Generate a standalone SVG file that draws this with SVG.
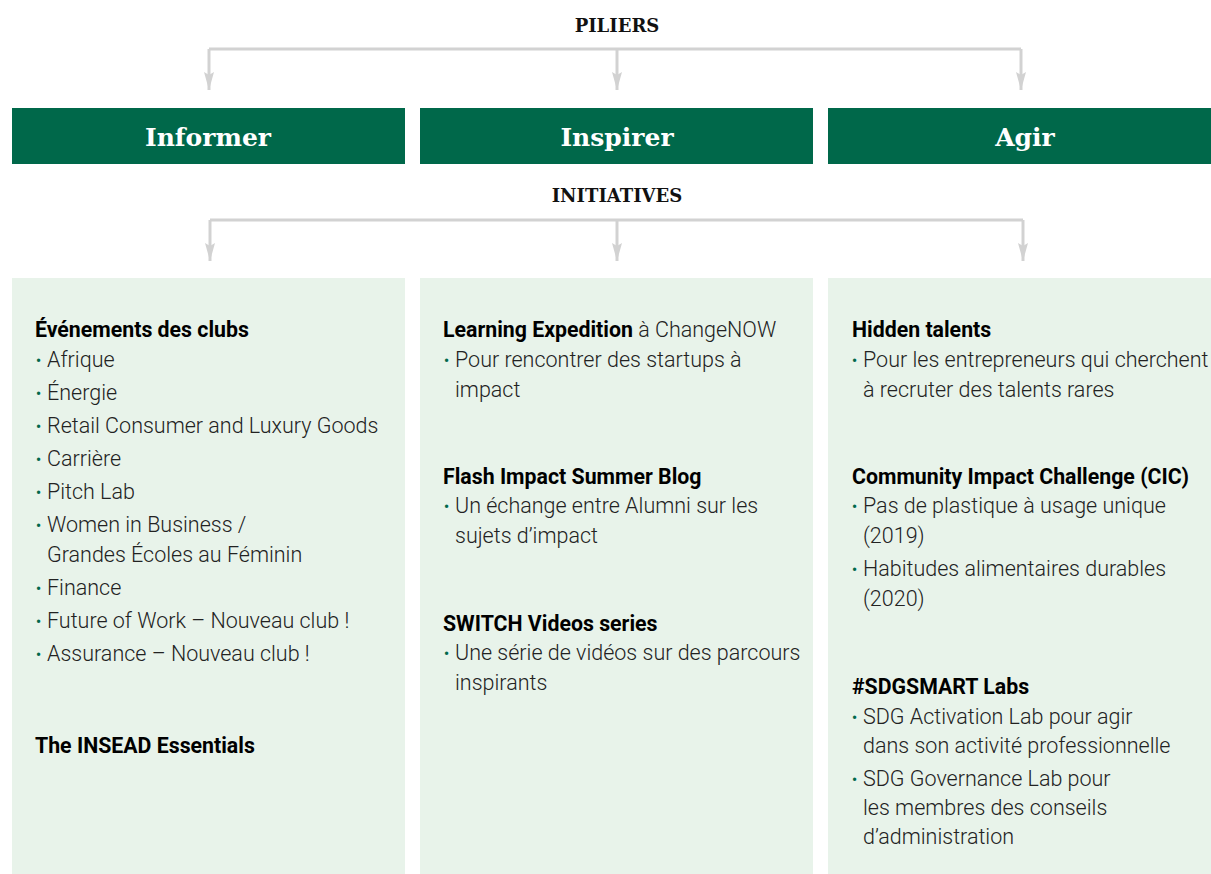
<svg xmlns="http://www.w3.org/2000/svg" width="1211" height="874" viewBox="0 0 1211 874">
<defs>
<marker id="arr" viewBox="0 0 18 10" refX="18" refY="5" markerWidth="18" markerHeight="10" markerUnits="userSpaceOnUse" orient="auto">
<path d="M0,0 L3,5 L0,10 L18,5 Z" fill="#d2d2d2"/>
</marker>
<style>
.bg{fill:#ffffff}
.bar{fill:#00684a}
.panel{fill:#e8f3ea}
.conn{fill:none;stroke:#d2d2d2;stroke-width:3}
.lbl{font-family:"DejaVu Serif",serif;font-weight:bold;font-size:18px;fill:#111;text-anchor:middle}
.pil{font-family:"DejaVu Serif",serif;font-weight:bold;font-size:25px;fill:#ffffff;text-anchor:middle}
.h{font-family:Roboto,"Liberation Sans",sans-serif;font-weight:700;font-size:21.3px;fill:#000}
.t{font-family:Roboto,"Liberation Sans",sans-serif;font-weight:300;font-size:21.5px;fill:#222}
.b{fill:#00684a;font-family:Roboto,"Liberation Sans",sans-serif;font-size:14px;font-weight:700}
</style>
</defs>
<rect class="bg" x="0" y="0" width="1211" height="874"/>
<text class="lbl" x="617" y="32">PILIERS</text>
<text class="lbl" x="617" y="202">INITIATIVES</text>
<g id="connectors">
<path class="conn" d="M209,49 H1021"/>
<path class="conn" d="M209,49 V90" marker-end="url(#arr)"/>
<path class="conn" d="M617,49 V90" marker-end="url(#arr)"/>
<path class="conn" d="M1021,49 V90" marker-end="url(#arr)"/>
<path class="conn" d="M210,220 H1023"/>
<path class="conn" d="M210,220 V261" marker-end="url(#arr)"/>
<path class="conn" d="M617,220 V261" marker-end="url(#arr)"/>
<path class="conn" d="M1023,220 V261" marker-end="url(#arr)"/>
</g>
<g id="pilier-informer">
<rect class="bar" x="12" y="108" width="393" height="56"/>
<text class="pil" x="208" y="146">Informer</text>
</g>
<g id="pilier-inspirer">
<rect class="bar" x="420" y="108" width="393" height="56"/>
<text class="pil" x="617" y="146">Inspirer</text>
</g>
<g id="pilier-agir">
<rect class="bar" x="828" y="108" width="383" height="56"/>
<text class="pil" x="1025" y="146">Agir</text>
</g>
<g id="initiatives-informer">
<rect class="panel" x="12" y="278" width="393" height="596"/>
<text class="h" x="35" y="337">Événements des clubs</text>
<g class="b"><text x="36" y="366">•</text><text x="36" y="399">•</text><text x="36" y="432">•</text><text x="36" y="465">•</text><text x="36" y="498">•</text><text x="36" y="531">•</text><text x="36" y="594">•</text><text x="36" y="627">•</text><text x="36" y="660">•</text></g>
<text class="t" x="47" y="367">Afrique</text>
<text class="t" x="47" y="400">Énergie</text>
<text class="t" x="47" y="433">Retail Consumer and Luxury Goods</text>
<text class="t" x="47" y="466">Carrière</text>
<text class="t" x="47" y="499">Pitch Lab</text>
<text class="t" x="47" y="532">Women in Business /</text>
<text class="t" x="47" y="562">Grandes Écoles au Féminin</text>
<text class="t" x="47" y="595">Finance</text>
<text class="t" x="47" y="628">Future of Work – Nouveau club !</text>
<text class="t" x="47" y="661">Assurance – Nouveau club !</text>
<text class="h" x="35" y="753">The INSEAD Essentials</text>
</g>
<g id="initiatives-inspirer">
<rect class="panel" x="420" y="278" width="393" height="596"/>
<text x="443" y="337"><tspan class="h">Learning Expedition</tspan><tspan class="t"> à ChangeNOW</tspan></text>
<g class="b"><text x="444" y="366">•</text><text x="444" y="512">•</text><text x="444" y="659">•</text></g>
<text class="t" x="455" y="367">Pour rencontrer des startups à</text>
<text class="t" x="455" y="397">impact</text>
<text class="h" x="443" y="484">Flash Impact Summer Blog</text>
<text class="t" x="455" y="513">Un échange entre Alumni sur les</text>
<text class="t" x="455" y="543">sujets d’impact</text>
<text class="h" x="443" y="631">SWITCH Videos series</text>
<text class="t" x="455" y="660">Une série de vidéos sur des parcours</text>
<text class="t" x="455" y="690">inspirants</text>
</g>
<g id="initiatives-agir">
<rect class="panel" x="828" y="278" width="383" height="596"/>
<text class="h" x="852" y="337">Hidden talents</text>
<g class="b"><text x="852" y="366">•</text><text x="852" y="512">•</text><text x="852" y="575">•</text><text x="852" y="723">•</text><text x="852" y="785">•</text></g>
<text class="t" x="863" y="367">Pour les entrepreneurs qui cherchent</text>
<text class="t" x="863" y="397">à recruter des talents rares</text>
<text class="h" x="852" y="484">Community Impact Challenge (CIC)</text>
<text class="t" x="863" y="513">Pas de plastique à usage unique</text>
<text class="t" x="863" y="543">(2019)</text>
<text class="t" x="863" y="576">Habitudes alimentaires durables</text>
<text class="t" x="863" y="606">(2020)</text>
<text class="h" x="852" y="694">#SDGSMART Labs</text>
<text class="t" x="863" y="724">SDG Activation Lab pour agir</text>
<text class="t" x="863" y="753">dans son activité professionnelle</text>
<text class="t" x="863" y="786">SDG Governance Lab pour</text>
<text class="t" x="863" y="815">les membres des conseils</text>
<text class="t" x="863" y="844">d’administration</text>
</g>
</svg>
